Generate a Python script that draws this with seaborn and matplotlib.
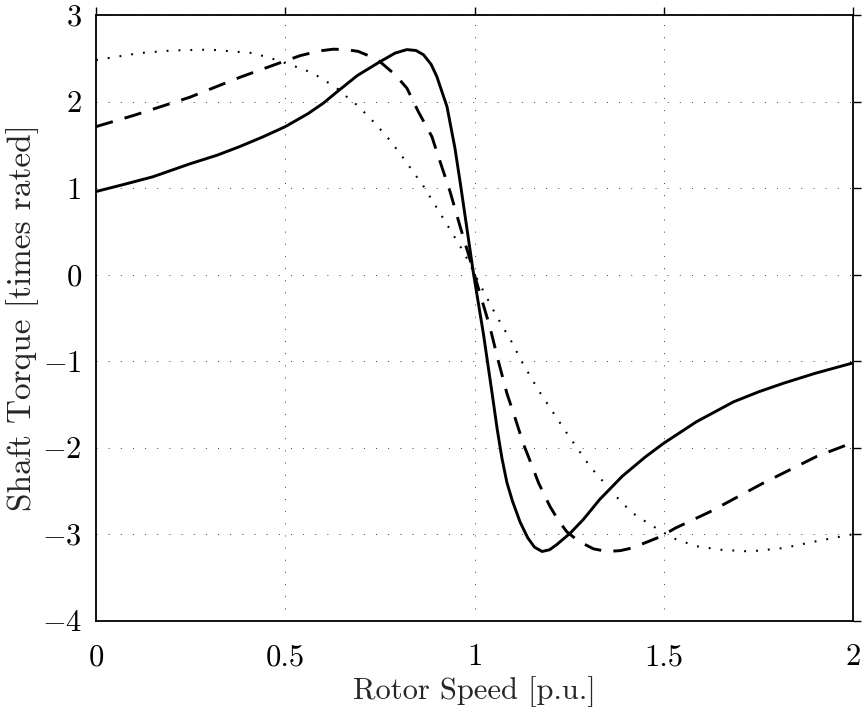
import matplotlib
matplotlib.use("Agg")
import matplotlib.pyplot as plt
import numpy as np
import pandas as pd
import seaborn as sns

# ---- data ----
solid_x = [0.0, 0.072, 0.15, 0.248, 0.32, 0.38, 0.44, 0.5, 0.56, 0.60, 0.636, 0.69, 0.75,
           0.79, 0.821, 0.845, 0.865, 0.885, 0.90, 0.927, 0.948, 0.962, 0.975, 0.997,
           1.023, 1.045, 1.060, 1.072, 1.085, 1.100, 1.120, 1.140, 1.158, 1.178, 1.198,
           1.217, 1.252, 1.287, 1.33, 1.39, 1.45, 1.499, 1.586, 1.684, 1.75, 1.816,
           1.90, 2.0]
solid_y = [0.96, 1.04, 1.13, 1.28, 1.38, 1.48, 1.59, 1.71, 1.86, 1.98, 2.11, 2.30, 2.46,
           2.56, 2.60, 2.59, 2.54, 2.43, 2.29, 1.94, 1.46, 1.06, 0.67, 0.01,
           -0.68, -1.34, -1.80, -2.12, -2.40, -2.62, -2.86, -3.04, -3.15, -3.20, -3.18,
           -3.12, -2.99, -2.83, -2.60, -2.33, -2.11, -1.95, -1.70, -1.47, -1.355, -1.255,
           -1.14, -1.02]

dashed_x = [0.0, 0.1, 0.248, 0.38, 0.5, 0.539, 0.59, 0.627, 0.66, 0.692, 0.72, 0.75,
            0.79, 0.821, 0.851, 0.887, 0.90, 0.935, 0.962, 0.988, 1.014, 1.040, 1.062,
            1.085, 1.107, 1.129, 1.155, 1.169, 1.199, 1.221, 1.243, 1.274, 1.314, 1.35,
            1.385, 1.415, 1.45, 1.49, 1.53, 1.622, 1.762, 1.904, 2.0]
dashed_y = [1.71, 1.84, 2.05, 2.28, 2.47, 2.53, 2.585, 2.605, 2.60, 2.58, 2.53, 2.46,
            2.31, 2.155, 1.885, 1.595, 1.42, 0.96, 0.55, 0.17, -0.22, -0.60, -0.99,
            -1.37, -1.66, -1.96, -2.25, -2.41, -2.68, -2.84, -2.97, -3.08, -3.17, -3.20,
            -3.19, -3.16, -3.10, -3.03, -2.93, -2.74, -2.41, -2.10, -1.94]

dotted_x = [0.0, 0.116, 0.2, 0.3, 0.415, 0.477, 0.552, 0.583, 0.609, 0.636, 0.666,
            0.692, 0.732, 0.768, 0.803, 0.865, 0.896, 0.931, 0.971, 1.01, 1.054, 1.098,
            1.125, 1.169, 1.243, 1.305, 1.375, 1.415, 1.464, 1.526, 1.586, 1.65, 1.728,
            1.816, 1.904, 2.0]
dotted_y = [2.48, 2.56, 2.59, 2.60, 2.56, 2.48, 2.365, 2.30, 2.23, 2.155, 2.04,
            1.95, 1.77, 1.595, 1.40, 1.02, 0.80, 0.55, 0.26, -0.08, -0.45, -0.78,
            -1.01, -1.34, -1.83, -2.22, -2.57, -2.75, -2.89, -3.05, -3.14, -3.18, -3.20,
            -3.16, -3.08, -3.00]

xticks = [0, 0.5, 1, 1.5, 2]
xtick_labels = ["0", "0.5", "1", "1.5", "2"]
yticks = [-4, -3, -2, -1, 0, 1, 2, 3]
ytick_labels = ["$-4$", "$-3$", "$-2$", "$-1$", "0", "1", "2", "3"]
x_label = "Rotor Speed [p.u.]"
y_label = "Shaft Torque [times rated]"

# ---- style ----
sns.set_style("white")
plt.rcParams["font.family"] = ["cmr10", "DejaVu Serif"]
plt.rcParams["mathtext.fontset"] = "cm"
plt.rcParams["axes.unicode_minus"] = False

fig = plt.figure(figsize=(8.64, 7.08), dpi=100)
ax = fig.add_axes([96 / 864, 1 - 620.7 / 708, (853.3 - 96) / 864, (620.7 - 15) / 708])

sns.lineplot(x=solid_x, y=solid_y, ax=ax, color="black", linewidth=2.1,
             linestyle="-", sort=False, estimator=None)
sns.lineplot(x=dashed_x, y=dashed_y, ax=ax, color="black", linewidth=2.1,
             linestyle=(0, (6.0, 4.2)), sort=False, estimator=None)
sns.lineplot(x=dotted_x, y=dotted_y, ax=ax, color="black", linewidth=1.5,
             linestyle=(0, (0.9, 4.8)), sort=False, estimator=None)

ax.set_xlim(0, 2)
ax.set_ylim(-4, 3)
ax.set_xticks(xticks)
ax.set_xticklabels(xtick_labels)
ax.set_yticks(yticks)
ax.set_yticklabels(ytick_labels)

ax.grid(True, linestyle=(0, (1, 11.5)), linewidth=0.7, color="0.25")
for s in ax.spines.values():
    s.set_visible(True)
    s.set_color("black")
    s.set_linewidth(1.3)

ax.tick_params(axis="both", which="major", direction="out", length=5.8, width=1.0,
               top=True, right=True, labelsize=22, colors="black")
ax.tick_params(axis="x", pad=11)
ax.tick_params(axis="y", pad=4.5)

ax.set_xlabel(x_label, fontsize=22, labelpad=3)
ax.set_ylabel(y_label, fontsize=24, labelpad=2)

fig.savefig("out.png", dpi=100)
